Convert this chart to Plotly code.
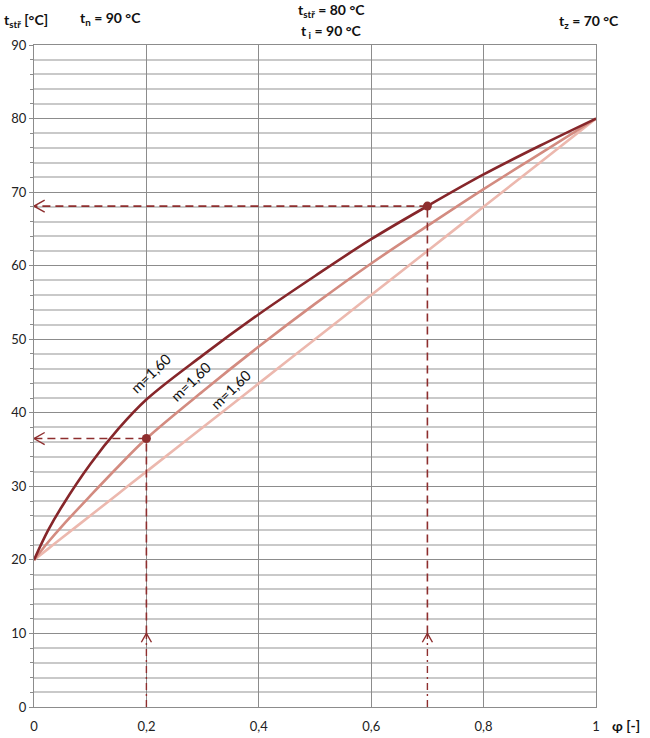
import plotly.graph_objects as go

# data
phi = [0, 0.025, 0.05, 0.1, 0.15, 0.2, 0.3, 0.4, 0.5, 0.6, 0.7, 0.8, 0.9, 1.0]
t_dark = [20, 24.0, 27.3, 33.0, 37.8, 41.8, 47.8, 53.4, 58.6, 63.6, 68.1, 72.4, 76.3, 80]
t_mid = [20, 22.4, 24.6, 28.7, 32.7, 36.5, 42.9, 49.0, 54.8, 60.3, 65.4, 70.4, 75.2, 80]
t_light = [20, 21.5, 23, 26, 29, 32, 38, 44, 50, 56, 62, 68, 74, 80]

read_phi = [0.2, 0.7]
read_t = [36.5, 68.1]
arrow_level = 10

curve_label = "m=1,60"
x_ticks = [0, 0.2, 0.4, 0.6, 0.8, 1]
x_tick_text = ["0", "0,2", "0,4", "0,6", "0,8", "1"]

dark_color = '#86262a'
mid_color = '#d38b80'
light_color = '#ecb8ae'
guide_color = '#8e2e2e'
major_grid = '#8c8c8c'
minor_grid = '#c9c9c9'
font_name = 'Lato'

fig = go.Figure()

# curves
for ys, col in [(t_light, light_color), (t_mid, mid_color), (t_dark, dark_color)]:
    fig.add_trace(go.Scatter(x=phi, y=ys, mode='lines', line=dict(color=col, width=2.6, shape='spline'),
                             hoverinfo='skip'))

# guide lines
for px, pt in zip(read_phi, read_t):
    fig.add_trace(go.Scatter(x=[px, 0], y=[pt, pt], mode='lines',
                             line=dict(color=guide_color, width=1.6, dash='8px,5px')))
    fig.add_trace(go.Scatter(x=[px, px], y=[arrow_level, pt], mode='lines',
                             line=dict(color=guide_color, width=1.6, dash='8px,5px')))
    fig.add_trace(go.Scatter(x=[px, px], y=[0, arrow_level], mode='lines',
                             line=dict(color=guide_color, width=1.4, dash='7px,4px,2px,4px')))
    # open chevrons
    fig.add_trace(go.Scatter(x=[0.019, 0, 0.019], y=[pt + 0.82, pt, pt - 0.82], mode='lines',
                             line=dict(color=guide_color, width=1.4)))
    fig.add_trace(go.Scatter(x=[px - 0.009, px, px + 0.009],
                             y=[arrow_level - 1.2, arrow_level, arrow_level - 1.2], mode='lines',
                             line=dict(color=guide_color, width=1.4)))

fig.add_trace(go.Scatter(x=read_phi, y=read_t, mode='markers',
                         marker=dict(color=guide_color, size=9)))

# curve labels
for lx, ly in [(0.207, 45.4), (0.279, 44.3), (0.350, 43.2)]:
    fig.add_annotation(x=lx, y=ly, text=curve_label, showarrow=False, textangle=-44,
                       font=dict(family=font_name, size=14.5, color='#111'))

# header texts (paper coords: plot area 34..596 px wide, 45..707 px tall)
def px_x(p):
    return (p - 34) / 562.0


def px_y(p):
    return (707 - p) / 662.0


head_font = dict(family=font_name, size=14, color='#111')
heads = [
    ("<b>t<sub>stř</sub> [°C]</b>", 2, 20, 'left'),
    ("<b>t<sub>n</sub> = 90 °C</b>", 78, 19, 'left'),
    ("<b>t<sub>stř</sub> = 80 °C</b>", 331, 10, 'center'),
    ("<b>t<sub> i</sub> = 90 °C</b>", 331, 31, 'center'),
    ("<b>t<sub>z</sub> = 70 °C</b>", 621, 22, 'right'),
    ("<b>φ [-]</b>", 610, 725, 'left'),
]
for txt, hx, hy, anc in heads:
    fig.add_annotation(x=px_x(hx), y=px_y(hy), xref='paper', yref='paper', text=txt,
                       showarrow=False, xanchor=anc, yanchor='middle', font=head_font)

fig.update_xaxes(range=[0, 1], tickvals=x_ticks, ticktext=x_tick_text, automargin=False,
                 showgrid=True, gridcolor=major_grid, gridwidth=1.3,
                 showline=True, mirror=True, linecolor=major_grid, linewidth=1.3,
                 zeroline=False, ticks='', ticklabelstandoff=7,
                 tickfont=dict(family=font_name, size=13, color='#222'))
fig.update_yaxes(range=[0, 90], dtick=10, automargin=False,
                 showgrid=True, gridcolor=major_grid, gridwidth=1.3,
                 minor=dict(dtick=2, showgrid=True, gridcolor=minor_grid, gridwidth=1.6,
                            ticks='outside', ticklen=3, tickcolor=major_grid),
                 showline=True, mirror=True, linecolor=major_grid, linewidth=1.3,
                 zeroline=False, ticks='outside', ticklen=4, tickcolor=major_grid,
                 tickfont=dict(family=font_name, size=13, color='#222'))

fig.update_layout(width=650, height=738, showlegend=False,
                  margin=dict(l=34, r=54, t=45, b=31),
                  plot_bgcolor='white', paper_bgcolor='white')

fig.write_html("out.html", config={'displayModeBar': False},
               post_script="document.body.style.margin='0';document.body.style.overflow='hidden';")
